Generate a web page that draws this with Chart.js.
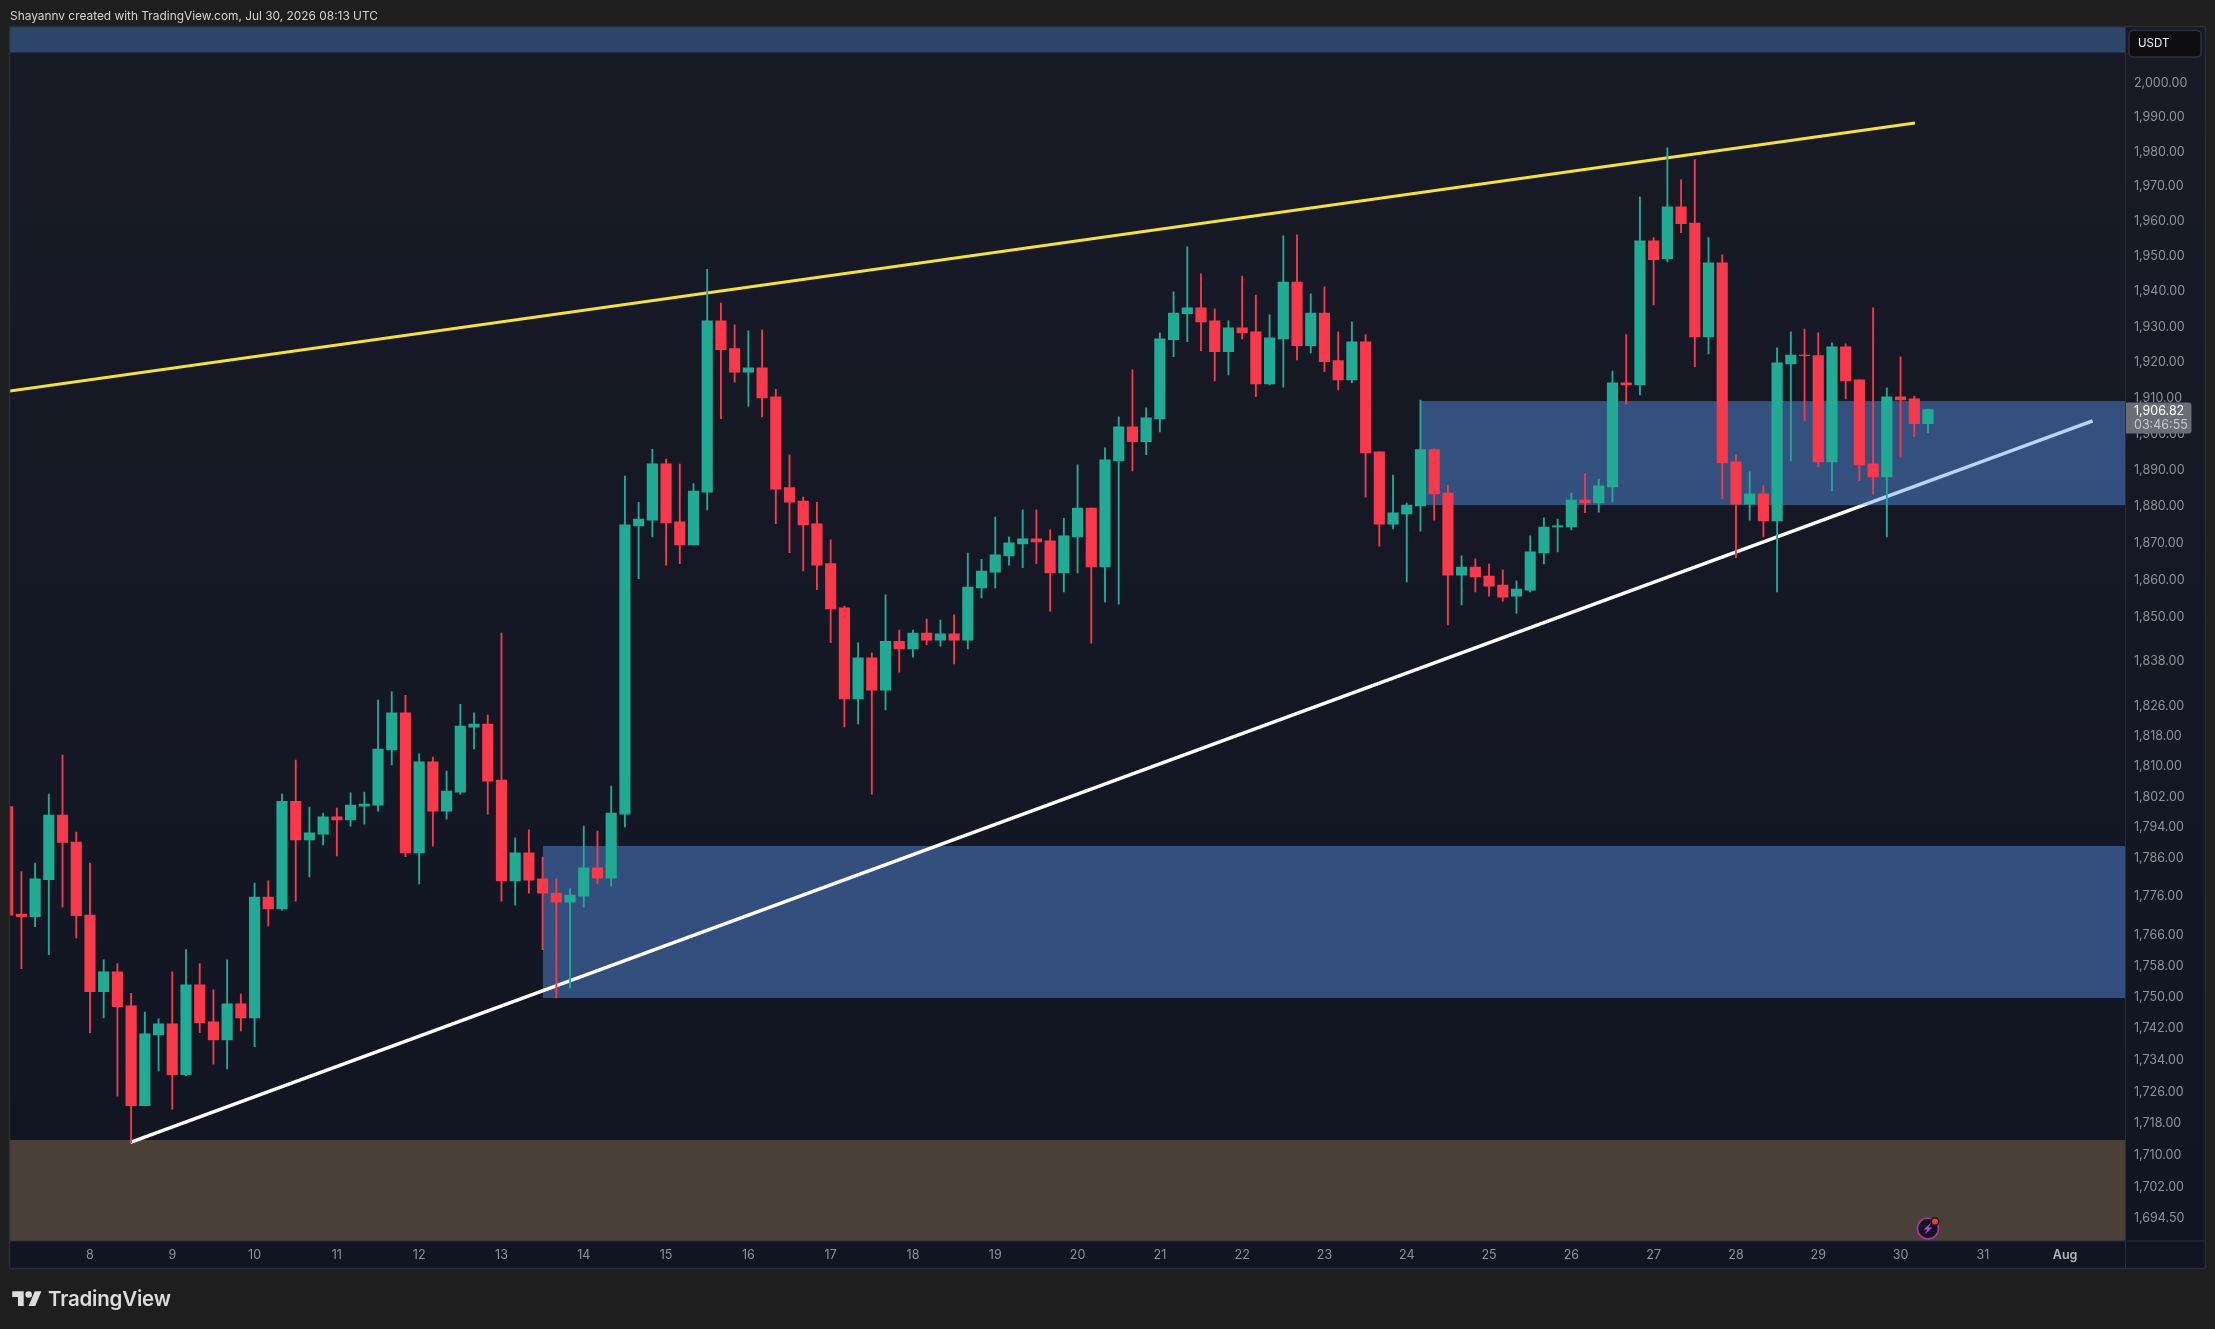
<!DOCTYPE html>
<html>
<head>
<meta charset="utf-8">
<title>Shayannv ETH chart</title>
<script src="https://cdn.jsdelivr.net/npm/chart.js@4/dist/chart.umd.min.js"></script>
<style>
  html, body { margin: 0; padding: 0; background: #1e1e1e; overflow: hidden; }
  #wrap { position: relative; width: 2215px; height: 1329px; }
  canvas { position: absolute; left: 0; top: 0; }
  #credit { position: absolute; left: 10px; top: 8px; font: 11.9px Inter, sans-serif; color: #d4d4d4; white-space: nowrap; }
  #brand { position: absolute; left: 48px; top: 1286px; font: 600 20.5px Inter, sans-serif; color: #dcdcdc; letter-spacing: -0.2px; white-space: nowrap; }
  #logo { position: absolute; left: 12px; top: 1288px; }
</style>
</head>
<body>
<div id="wrap">
  <canvas id="chart" width="2215" height="1329"></canvas>
  <div id="credit">Shayannv created with TradingView.com, Jul 30, 2026 08:13 UTC</div>
  <svg id="logo" width="30" height="23" viewBox="0 0 36 28"><path fill="#dcdcdc" d="M14 22H7V11H0V4h14v18zM28 22h-8l7.5-18h8L28 22z"/><circle fill="#dcdcdc" cx="20" cy="8" r="4"/></svg>
  <div id="brand">TradingView</div>
</div>
<script>
// candles, one entry per 4h bar, bar 6 is the 8th
const opens = [
  1799.4, 1771.4, 1770.7, 1780.3, 1797.2, 1790.1, 1771.1, 1751.4, 1756.5, 1747.8,
  1722.5, 1740.4, 1743.2, 1730.3, 1753.2, 1743.7, 1739.1, 1748.3, 1744.7, 1775.8,
  1772.7, 1800.8, 1790.7, 1792.2, 1796.7, 1795.9, 1799.5, 1799.8, 1814.4, 1824.2,
  1787.3, 1811.2, 1798.2, 1803.2, 1820.4, 1821.2, 1806.4, 1780.0, 1787.3, 1780.5,
  1776.8, 1774.5, 1776.0, 1783.4, 1780.7, 1797.4, 1874.7, 1876.3, 1891.8, 1875.8,
  1869.5, 1884.0, 1931.7, 1923.9, 1917.3, 1918.5, 1910.4, 1885.2, 1881.5, 1875.3,
  1864.4, 1852.4, 1827.9, 1838.9, 1830.3, 1843.4, 1841.3, 1845.6, 1843.7, 1845.4,
  1843.7, 1857.8, 1862.1, 1866.5, 1869.8, 1871.2, 1870.6, 1861.9, 1871.7, 1879.6,
  1863.5, 1892.6, 1902.0, 1897.9, 1904.2, 1926.4, 1933.7, 1935.4, 1931.7, 1923.0,
  1929.7, 1928.6, 1914.0, 1926.6, 1942.7, 1924.7, 1933.9, 1920.5, 1915.1, 1925.8,
  1895.1, 1875.2, 1878.0, 1880.2, 1895.7, 1883.7, 1861.3, 1863.5, 1861.0, 1858.6,
  1855.6, 1857.2, 1867.3, 1874.4, 1874.4, 1881.8, 1881.0, 1885.4, 1914.3, 1913.7,
  1954.4, 1949.3, 1964.1, 1959.5, 1927.2, 1948.1, 1892.3, 1880.7, 1883.5, 1876.1,
  1919.6, 1922.1, 1921.9, 1892.3, 1924.4, 1915.1, 1891.8, 1888.2, 1910.4, 1909.8,
  1902.9
];
const highs = [
  1799.4, 1782.4, 1784.6, 1802.7, 1813.0, 1792.7, 1784.6, 1759.6, 1758.6, 1751.0,
  1746.2, 1744.5, 1756.5, 1762.2, 1758.6, 1751.9, 1759.6, 1750.8, 1779.4, 1780.0,
  1802.7, 1811.7, 1799.3, 1797.7, 1799.0, 1803.0, 1803.2, 1827.6, 1829.8, 1828.9,
  1813.3, 1812.5, 1808.8, 1826.5, 1824.2, 1823.6, 1845.6, 1791.2, 1793.3, 1786.2,
  1780.5, 1777.9, 1794.3, 1793.0, 1804.8, 1888.4, 1881.2, 1895.8, 1893.1, 1891.7,
  1886.3, 1946.3, 1936.7, 1930.6, 1928.9, 1929.2, 1912.5, 1894.3, 1882.6, 1881.2,
  1870.9, 1852.9, 1843.0, 1840.3, 1855.9, 1846.4, 1846.4, 1849.4, 1849.1, 1850.5,
  1867.3, 1865.6, 1877.1, 1871.7, 1879.1, 1879.1, 1873.6, 1876.8, 1891.5, 1879.6,
  1896.2, 1904.8, 1917.9, 1907.3, 1928.3, 1939.9, 1952.7, 1945.0, 1935.1, 1931.7,
  1944.4, 1939.0, 1933.4, 1955.8, 1956.1, 1939.3, 1941.3, 1928.6, 1931.4, 1927.8,
  1895.1, 1888.7, 1881.0, 1909.5, 1895.9, 1885.9, 1866.5, 1865.7, 1864.3, 1862.7,
  1859.7, 1872.0, 1876.9, 1876.6, 1883.7, 1889.0, 1887.6, 1917.6, 1927.8, 1967.0,
  1955.3, 1981.1, 1971.9, 1977.7, 1955.3, 1950.4, 1894.3, 1889.6, 1885.7, 1924.1,
  1928.6, 1929.4, 1928.3, 1925.5, 1925.2, 1915.1, 1935.4, 1912.9, 1921.6, 1910.6,
  1907.0
];
const lows = [
  1771.1, 1757.3, 1768.1, 1760.9, 1773.2, 1765.2, 1741.0, 1744.7, 1724.9, 1713.2,
  1722.5, 1731.3, 1721.6, 1730.0, 1741.0, 1733.0, 1731.8, 1741.4, 1737.4, 1768.3,
  1772.4, 1774.7, 1781.0, 1789.4, 1786.5, 1794.3, 1794.8, 1798.2, 1810.4, 1786.3,
  1779.2, 1789.1, 1796.1, 1802.7, 1814.6, 1797.4, 1774.7, 1773.7, 1776.8, 1762.2,
  1749.8, 1752.4, 1773.2, 1779.2, 1778.7, 1794.1, 1860.3, 1871.7, 1864.0, 1864.4,
  1869.5, 1879.1, 1904.3, 1914.5, 1907.8, 1904.8, 1875.3, 1867.4, 1862.4, 1857.3,
  1843.0, 1820.5, 1821.3, 1802.7, 1825.0, 1835.1, 1839.1, 1842.4, 1842.1, 1837.3,
  1841.3, 1855.1, 1857.8, 1864.0, 1863.3, 1864.4, 1851.5, 1856.7, 1861.9, 1842.9,
  1854.0, 1853.4, 1889.8, 1894.3, 1900.6, 1921.6, 1925.8, 1923.3, 1914.8, 1916.5,
  1926.6, 1910.4, 1913.7, 1913.1, 1920.7, 1922.7, 1917.4, 1912.3, 1914.3, 1882.6,
  1869.2, 1873.9, 1859.4, 1873.3, 1876.3, 1847.8, 1853.2, 1856.7, 1855.6, 1854.2,
  1851.0, 1856.7, 1864.3, 1867.6, 1873.6, 1878.3, 1878.5, 1881.3, 1908.4, 1910.9,
  1936.2, 1948.4, 1956.7, 1918.8, 1922.4, 1882.1, 1866.0, 1876.3, 1871.7, 1856.7,
  1892.6, 1903.7, 1890.9, 1884.3, 1909.8, 1887.1, 1883.5, 1871.7, 1893.7, 1899.3,
  1900.4
];
const closes = [
  1771.1, 1770.7, 1780.5, 1797.2, 1790.0, 1771.0, 1751.4, 1756.5, 1747.6, 1722.5,
  1740.7, 1743.2, 1730.3, 1753.2, 1743.5, 1739.1, 1748.3, 1744.7, 1775.8, 1772.7,
  1800.8, 1790.7, 1792.5, 1796.7, 1795.9, 1799.8, 1800.1, 1814.6, 1824.2, 1787.3,
  1811.2, 1798.2, 1803.5, 1820.7, 1821.2, 1806.1, 1780.0, 1787.3, 1780.2, 1776.8,
  1774.5, 1776.3, 1783.4, 1780.7, 1797.7, 1875.0, 1876.6, 1891.8, 1875.5, 1869.5,
  1884.3, 1931.7, 1923.6, 1917.3, 1918.5, 1910.1, 1884.8, 1881.2, 1875.0, 1864.0,
  1852.1, 1827.9, 1838.9, 1830.3, 1843.4, 1841.3, 1845.6, 1843.7, 1845.4, 1843.7,
  1858.0, 1862.4, 1866.8, 1870.1, 1871.2, 1870.3, 1861.9, 1872.0, 1879.6, 1863.5,
  1892.9, 1902.0, 1897.9, 1904.5, 1926.6, 1933.9, 1935.4, 1931.4, 1923.0, 1929.7,
  1928.3, 1914.0, 1926.9, 1942.7, 1924.7, 1933.9, 1920.2, 1915.1, 1925.8, 1894.8,
  1875.2, 1878.3, 1880.4, 1895.7, 1883.5, 1861.3, 1863.5, 1860.8, 1858.3, 1855.3,
  1857.5, 1867.6, 1874.4, 1874.7, 1881.8, 1881.0, 1885.7, 1914.3, 1913.7, 1954.4,
  1949.0, 1964.1, 1959.3, 1927.2, 1948.1, 1892.0, 1880.7, 1883.5, 1876.1, 1919.9,
  1922.1, 1921.9, 1892.3, 1924.4, 1914.8, 1891.5, 1888.2, 1910.4, 1909.5, 1902.9,
  1906.82
];

const priceTicks = [
  2000, 1990, 1980, 1970, 1960, 1950, 1940, 1930, 1920, 1910, 1900, 1890, 1880, 1870, 1860, 1850,
  1838, 1826, 1818, 1810, 1802, 1794, 1786, 1776, 1766, 1758, 1750, 1742, 1734, 1726, 1718,
  1710, 1702, 1694.5
];
const dayLabels = ['8','9','10','11','12','13','14','15','16','17','18','19','20','21','22','23','24','25','26','27','28','29','30','31','Aug'];
const dayBars = [6,12,18,24,30,36,42,48,54,60,66,72,78,84,90,96,102,108,114,120,126,132,138,144,150];

const yellowBars = [0.17, 139.05];
const yellowPrices = [1912.0, 1988.3];
const whiteBars = [8.95, 152.0];
const whitePrices = [1713.3, 1903.7];

const lastPrice = 1906.82;
const countdown = '03:46:55';

// zones: from bar, low, high
const topBand = [0, 2008.9, 2016.4];
const lowerZone = [39.02, 1749.8, 1789.1];
const upperZone = [102.95, 1880.4, 1909.2];
const baseZone = [0, 1688.8, 1713.9];

const UP = '#22ab94';
const DOWN = '#f7394b';
const PANE_TOP = '#181b26';
const PANE_BOTTOM = '#111522';
const LINE = '#2b2e38';
const TICK = '#8f929b';
const candleColor = i => closes[i] >= opens[i] ? UP : DOWN;
const fmt = v => v.toLocaleString('en-US', { minimumFractionDigits: 2, maximumFractionDigits: 2 });

Chart.defaults.font.family = 'Inter, sans-serif';

function fillZone(chart, zone, color) {
    const { ctx, chartArea, scales } = chart;
    const left = Math.max(scales.x.getPixelForValue(zone[0]), chartArea.left);
    const top = scales.y.getPixelForValue(zone[2]);
    const bottom = scales.y.getPixelForValue(zone[1]);
    ctx.fillStyle = color;
    ctx.fillRect(left, top, chartArea.right - left, bottom - top);
}

const frame = {
    id: 'frame',
    beforeDraw(chart) {
        const { ctx, chartArea: a } = chart;
        const g = ctx.createLinearGradient(0, a.top, 0, 1268);
        g.addColorStop(0, PANE_TOP);
        g.addColorStop(1, PANE_BOTTOM);
        ctx.fillStyle = g;
        ctx.fillRect(a.left, a.top, 2205 - a.left, 1268 - a.top);
    },
    beforeDatasetsDraw(chart) {
        fillZone(chart, topBand, 'rgba(93,154,245,0.33)');
        fillZone(chart, lowerZone, 'rgba(93,154,245,0.43)');
        fillZone(chart, baseZone, '#4a4038');
    },
    afterDatasetDraw(chart, args) {
        // the upper zone sits over the white trendline, the lower one under it
        if (args.index === 1) fillZone(chart, upperZone, 'rgba(93,154,245,0.43)');
    },
    afterDraw(chart) {
        const { ctx, chartArea: a, scales } = chart;
        ctx.save();
        ctx.strokeStyle = LINE;
        ctx.lineWidth = 1;
        ctx.beginPath();
        ctx.moveTo(a.right, a.top); ctx.lineTo(a.right, 1268);
        ctx.moveTo(a.left, a.bottom); ctx.lineTo(2205, a.bottom);
        ctx.stroke();
        ctx.lineWidth = 1.5;
        ctx.strokeRect(9.5, 26.5, 2196, 1242);

        // last price tag
        const py = scales.y.getPixelForValue(lastPrice);
        ctx.fillStyle = '#6c6d74';
        ctx.beginPath();
        ctx.roundRect(a.right + 0.5, py - 7, 65.5, 31, [0, 3, 3, 0]);
        ctx.fill();
        ctx.textBaseline = 'middle';
        ctx.textAlign = 'left';
        ctx.font = '12.5px Inter, sans-serif';
        ctx.fillStyle = '#ffffff';
        ctx.fillText(fmt(lastPrice), 2134, py + 1.5);
        ctx.fillStyle = '#c9c9cc';
        ctx.fillText(countdown, 2134, py + 15.5);

        // currency button
        ctx.fillStyle = '#0e0e10';
        ctx.strokeStyle = '#2f323b';
        ctx.beginPath();
        ctx.roundRect(2129, 30.5, 72, 26.5, 4);
        ctx.fill();
        ctx.stroke();
        ctx.fillStyle = '#f0f0f0';
        ctx.font = '11.5px Inter, sans-serif';
        ctx.fillText('USDT', 2138, 44);

        // news badge under the last bar
        const bx = scales.x.getPixelForValue(opens.length - 1);
        ctx.fillStyle = '#17131f';
        ctx.strokeStyle = '#9b3fa6';
        ctx.lineWidth = 1.6;
        ctx.beginPath();
        ctx.arc(bx, 1228.5, 10.5, 0, Math.PI * 2);
        ctx.fill();
        ctx.stroke();
        ctx.fillStyle = '#a64fd0';
        ctx.beginPath();
        ctx.moveTo(bx + 3.5, 1222.5);
        ctx.lineTo(bx - 4.5, 1229.5);
        ctx.lineTo(bx - 0.5, 1229.5);
        ctx.lineTo(bx - 3.5, 1234.5);
        ctx.lineTo(bx + 4.5, 1227.5);
        ctx.lineTo(bx + 0.5, 1227.5);
        ctx.closePath();
        ctx.fill();
        ctx.fillStyle = '#1a1a1c';
        ctx.beginPath();
        ctx.arc(bx + 7, 1221.5, 4.5, 0, Math.PI * 2);
        ctx.fill();
        ctx.fillStyle = '#f23645';
        ctx.beginPath();
        ctx.arc(bx + 7, 1221.5, 3, 0, Math.PI * 2);
        ctx.fill();
        ctx.restore();
    }
};

new Chart(document.getElementById('chart'), {
    type: 'bar',
    plugins: [frame],
    data: {
        datasets: [
            {
                type: 'line',
                data: yellowBars.map((x, i) => ({ x, y: yellowPrices[i] })),
                borderColor: '#f4e13c',
                borderWidth: 3,
                pointRadius: 0,
                order: 4
            },
            {
                type: 'line',
                data: whiteBars.map((x, i) => ({ x, y: whitePrices[i] })),
                borderColor: '#ffffff',
                borderWidth: 3.6,
                pointRadius: 0,
                order: 3
            },
            {
                data: highs.map((h, i) => ({ x: i, y: [lows[i], h] })),
                backgroundColor: ctx => candleColor(ctx.dataIndex),
                barThickness: 1.2,
                grouped: false,
                order: 2
            },
            {
                data: opens.map((o, i) => ({ x: i, y: [o, closes[i]] })),
                backgroundColor: ctx => candleColor(ctx.dataIndex),
                barThickness: 10.5,
                grouped: false,
                order: 1
            }
        ]
    },
    options: {
        responsive: false,
        animation: false,
        devicePixelRatio: 1,
        layout: { autoPadding: false, padding: { left: 10, top: 27, right: 10, bottom: 61 } },
        plugins: { legend: { display: false }, tooltip: { enabled: false }, title: { display: false } },
        scales: {
            x: {
                type: 'linear',
                offset: false,
                min: 0.17,
                max: 154.4,
                grid: { display: false, drawTicks: false, offset: false },
                border: { display: false },
                afterFit: s => { s.height = 27; },
                afterBuildTicks: s => { s.ticks = dayBars.map(value => ({ value })); },
                ticks: {
                    autoSkip: false,
                    maxRotation: 0,
                    padding: 7,
                    callback: v => dayLabels[dayBars.indexOf(v)],
                    color: ctx => ctx.tick && ctx.tick.label === 'Aug' ? '#b4b6bd' : TICK,
                    font: ctx => ({ size: 12.5, weight: ctx.tick && ctx.tick.label === 'Aug' ? '600' : '400' })
                }
            },
            y: {
                type: 'logarithmic',
                position: 'right',
                min: 1688.8,
                max: 2016.4,
                bounds: 'data',
                grid: { display: false, drawTicks: false },
                border: { display: false },
                afterFit: s => { s.width = 79.5; },
                afterBuildTicks: s => { s.ticks = priceTicks.map(value => ({ value })); },
                ticks: {
                    autoSkip: false,
                    major: { enabled: false },
                    padding: 8.5,
                    color: TICK,
                    font: { size: 12.5 },
                    callback: v => fmt(v)
                }
            }
        }
    }
});
</script>
</body>
</html>
